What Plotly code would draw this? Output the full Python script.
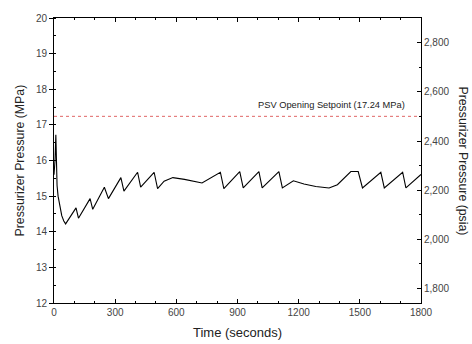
import plotly.graph_objects as go

# Data
time_s = [0, 5, 9, 12, 15, 20, 28, 38, 48, 57,
          108, 120, 177, 190, 247, 267, 328, 343, 410, 425, 491, 508,
          540, 583, 640, 726, 816, 833, 911, 928, 1005, 1021, 1103, 1120,
          1174, 1226, 1284, 1349, 1390, 1456, 1492, 1513, 1603, 1620,
          1710, 1726, 1800]
pressure_mpa = [15.6, 16.0, 16.72, 16.0, 15.3, 15.0, 14.7, 14.45, 14.3, 14.22,
                14.67, 14.38, 14.93, 14.63, 15.25, 14.93, 15.52, 15.14, 15.67, 15.25, 15.67, 15.21,
                15.42, 15.52, 15.47, 15.37, 15.67, 15.21, 15.69, 15.23, 15.69, 15.23, 15.69, 15.23,
                15.43, 15.34, 15.27, 15.23, 15.32, 15.69, 15.69, 15.23, 15.67, 15.23,
                15.67, 15.23, 15.61]
setpoint_mpa = 17.24
setpoint_label = "PSV Opening Setpoint (17.24 MPa)"
x_ticks = [0, 300, 600, 900, 1200, 1500, 1800]
y_ticks = [12, 13, 14, 15, 16, 17, 18, 19, 20]
psia_ticks = [1800, 2000, 2200, 2400, 2600, 2800]
MPA_TO_PSIA = 145.038

FONT = "Arial, Liberation Sans, sans-serif"

fig = go.Figure()
fig.add_trace(go.Scatter(x=time_s, y=pressure_mpa, mode="lines",
                         line=dict(color="black", width=1.1), showlegend=False,
                         hoverinfo="skip"))
fig.add_trace(go.Scatter(x=[x_ticks[0], x_ticks[-1]], y=[setpoint_mpa, setpoint_mpa],
                         mode="lines", line=dict(color="#e06666", width=1, dash="3px,3px"),
                         showlegend=False, hoverinfo="skip"))
fig.add_trace(go.Scatter(x=time_s, y=[p * MPA_TO_PSIA for p in pressure_mpa], yaxis="y2",
                         mode="lines", line=dict(width=0), opacity=0, showlegend=False,
                         hoverinfo="skip"))

fig.add_annotation(x=1800, y=setpoint_mpa, xref="x", yref="y", text=setpoint_label,
                   showarrow=False, xanchor="right", yanchor="bottom", xshift=-14, yshift=4,
                   font=dict(family=FONT, size=9.3, color="#222"))

axis_common = dict(showline=True, linecolor="black", linewidth=1, showgrid=False,
                   zeroline=False, tickfont=dict(family=FONT, size=10, color="#444"),
                   tickcolor="black", ticklen=4)

fig.update_layout(
    width=472, height=344,
    margin=dict(l=54, r=51, t=14, b=41),
    paper_bgcolor="white", plot_bgcolor="white",
    xaxis=dict(range=[x_ticks[0], x_ticks[-1]], tickvals=x_ticks, ticks="inside",
               mirror="ticks", minor=dict(dtick=100, ticks="inside", ticklen=2, tickcolor="black"),
               **axis_common),
    yaxis=dict(range=[y_ticks[0], y_ticks[-1]], tickvals=y_ticks, ticks="outside",
               minor=dict(dtick=0.5, ticks="inside", ticklen=2, tickcolor="black"),
               **axis_common),
    yaxis2=dict(range=[y_ticks[0] * MPA_TO_PSIA, y_ticks[-1] * MPA_TO_PSIA], overlaying="y",
                side="right", tickvals=psia_ticks, tickformat=",", ticks="inside",
                minor=dict(dtick=100, ticks="inside", ticklen=2, tickcolor="black"),
                **axis_common),
)

fig.add_annotation(x=0.5, y=-30 / 289, xref="paper", yref="paper", text="Time (seconds)",
                   showarrow=False, xanchor="center", yanchor="middle",
                   font=dict(family=FONT, size=13, color="#222"))
fig.add_annotation(x=-34 / 366.7, y=0.5, xref="paper", yref="paper", xanchor="center",
                   yanchor="middle", text="Pressurizer Pressure (MPa)", textangle=-90,
                   showarrow=False, font=dict(family=FONT, size=12.3, color="#222"))
fig.add_annotation(x=1 + 42 / 366.7, y=0.5, xref="paper", yref="paper", xanchor="center",
                   yanchor="middle", text="Pressurizer Pressure (psia)", textangle=90,
                   showarrow=False, font=dict(family=FONT, size=12.3, color="#222"))

fig.write_html("out.html")
